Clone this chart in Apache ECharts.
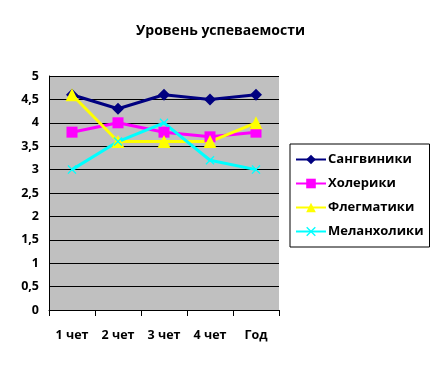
<!DOCTYPE html>
<html><head><meta charset="utf-8">
<script src="https://cdn.jsdelivr.net/npm/echarts@6/dist/echarts.min.js"></script>
<style>html,body{margin:0;padding:0;background:#fff}#c{width:441px;height:365px}</style>
</head><body><div id="c"></div>
<script>
var categories = ['1 чет', '2 чет', '3 чет', '4 чет', 'Год'];
var sangviniki = [4.6, 4.3, 4.6, 4.5, 4.6];
var holeriki = [3.8, 4.0, 3.8, 3.7, 3.8];
var flegmatiki = [4.6, 3.6, 3.6, 3.6, 4.0];
var melanholiki = [3.0, 3.6, 4.0, 3.2, 3.0];
var yTicks = ['0','0,5','1','1,5','2','2,5','3','3,5','4','4,5','5'];

var FONT = '"Open Sans", "DejaVu Sans", sans-serif';
var xPath = 'path://M0,1 L1,0 L5,4 L9,0 L10,1 L6,5 L10,9 L9,10 L5,6 L1,10 L0,9 L4,5 Z';
function s(name, data, color, symbol, size) {
  return {
    name: name, type: 'line', data: data, symbol: symbol, symbolSize: size,
    lineStyle: {color: color, width: 3}, itemStyle: {color: color},
    emphasis: {disabled: true}, animation: false
  };
}
var chart = echarts.init(document.getElementById('c'), null, {renderer: 'canvas'});
chart.setOption({
  animation: false,
  title: {text: 'Уровень успеваемости', left: 'center', top: 19,
    textStyle: {fontFamily: FONT, fontSize: 14, fontWeight: 'bold', color: '#000'}},
  grid: {left: 49, top: 76, right: 162, bottom: 55, show: true, backgroundColor: '#C0C0C0', borderWidth: 0},
  legend: {
    orient: 'vertical', left: 290, top: 144, width: 137, itemGap: 11,
    padding: [9, 6, 9, 5], borderColor: '#000', borderWidth: 1,
    itemWidth: 30, itemHeight: 12,
    textStyle: {fontFamily: FONT, fontSize: 13, fontWeight: 'bold', color: '#000', padding: [0, 0, 0, -3]},
    data: ['Сангвиники', 'Холерики', 'Флегматики', 'Меланхолики']
  },
  xAxis: {
    type: 'category', data: categories, boundaryGap: true,
    axisLine: {lineStyle: {color: '#000', width: 1}},
    axisTick: {show: true, length: 6, lineStyle: {color: '#000'}},
    axisLabel: {fontFamily: FONT, fontSize: 12.5, fontWeight: 'bold', color: '#000', margin: 19}
  },
  yAxis: {
    type: 'value', min: 0, max: 5, interval: 0.5,
    axisLine: {show: true, lineStyle: {color: '#000'}},
    axisTick: {show: false},
    splitLine: {lineStyle: {color: '#000', width: 1}},
    axisLabel: {fontFamily: FONT, fontSize: 12.5, fontWeight: 'bold', color: '#000', margin: 10,
      formatter: function (v) { return yTicks[Math.round(v * 2)]; }}
  },
  series: [
    s('Сангвиники', sangviniki, '#000080', 'diamond', 12),
    s('Холерики', holeriki, '#FF00FF', 'rect', 11),
    s('Флегматики', flegmatiki, '#FFFF00', 'triangle', 13),
    s('Меланхолики', melanholiki, '#00FFFF', xPath, 9)
  ]
});
</script></body></html>
